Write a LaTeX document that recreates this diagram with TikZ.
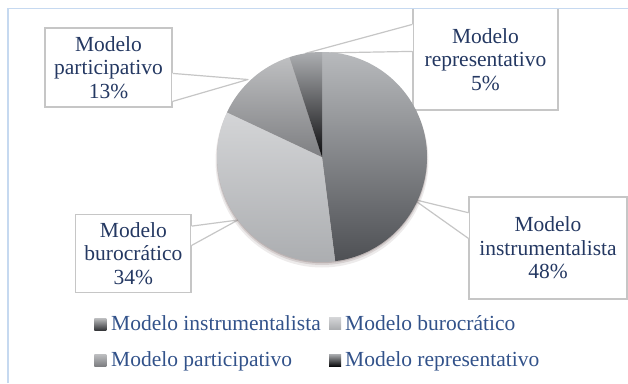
\documentclass[tikz,border=0pt]{standalone}
\usepackage{fontspec}
\setmainfont{Liberation Serif}
\usetikzlibrary{calc}
\definecolor{framec}{RGB}{198,217,240}
\definecolor{boxc}{RGB}{198,198,198}
\definecolor{labtext}{RGB}{36,56,98}
\definecolor{legtextc}{RGB}{50,82,138}
\definecolor{instrT}{RGB}{184,186,189}
\definecolor{instrB}{RGB}{78,80,84}
\definecolor{buroT}{RGB}{212,213,215}
\definecolor{buroB}{RGB}{170,172,175}
\definecolor{partT}{RGB}{190,191,193}
\definecolor{partB}{RGB}{126,127,130}
\definecolor{repT}{RGB}{172,174,177}
\definecolor{repB}{RGB}{12,12,14}
\definecolor{shadowc}{RGB}{110,90,90}
\begin{document}
\begin{tikzpicture}[x=1pt,y=-1pt,
  labelbox/.style={draw=boxc, line width=1.2pt, fill=white, inner sep=0pt,
    align=center, text=labtext, font=\fontsize{21.5}{23.5}\selectfont},
  wedgeline/.style={draw=boxc, line width=1.2pt, line join=round},
  wedgecover/.style={draw=white, line width=1.8pt},
  legsq/.style={minimum size=12pt, inner sep=0pt, draw=none},
  legtext/.style={anchor=base west, inner sep=0pt, text=legtextc,
    font=\fontsize{21.5}{23.5}\selectfont}]
\useasboundingbox (0,0) rectangle (628,383);

% label boxes
\node[labelbox, minimum width=127pt, minimum height=79pt] (part) at (108.5,67.5)
  {Modelo\\participativo\\13\%};
\node[labelbox, minimum width=145pt, minimum height=101.5pt] (rep) at (485.5,59.25)
  {Modelo\\representativo\\5\%};
\node[labelbox, minimum width=158pt, minimum height=102pt] (instr) at (548,248)
  {Modelo\\instrumentalista\\48\%};
\node[labelbox, minimum width=115.3pt, minimum height=78.4pt] (buro) at (133.4,253.5)
  {Modelo\\burocrático\\34\%};

% pointer tips on the pie
\coordinate (tipP) at (248,79.5);
\coordinate (tipR) at (305.6,53.3);
\coordinate (tipI) at (413.3,199.3);
\coordinate (tipB) at (238,220);

% pointer bases on the boxes
\coordinate (pA) at ($(part.north east)+(0,46)$);
\coordinate (pB) at ($(part.north east)+(0,74)$);
\coordinate (rA) at ($(rep.north west)+(0,16.5)$);
\coordinate (rB) at ($(rep.north west)+(0,43.5)$);
\coordinate (iA) at ($(instr.north west)+(0,16.3)$);
\coordinate (iB) at ($(instr.north west)+(0,42)$);
\coordinate (bA) at ($(buro.north east)+(0,12.4)$);
\coordinate (bB) at ($(buro.north east)+(0,31.7)$);

\fill[white] (pA) -- (tipP) -- (pB) -- cycle;
\draw[wedgecover] (pA) -- (pB);
\draw[wedgeline] (pA) -- (tipP) -- (pB);
\fill[white] (rA) -- (tipR) -- (rB) -- cycle;
\draw[wedgecover] (rA) -- (rB);
\draw[wedgeline] (rA) -- (tipR) -- (rB);
\fill[white] (iA) -- (tipI) -- (iB) -- cycle;
\draw[wedgecover] (iA) -- (iB);
\draw[wedgeline] (iA) -- (tipI) -- (iB);
\fill[white] (bA) -- (tipB) -- (bB) -- cycle;
\draw[wedgecover] (bA) -- (bB);
\draw[wedgeline] (bA) -- (tipB) -- (bB);

% pie
\coordinate (O) at (322,157);
\fill[shadowc, opacity=0.12] ($(O)+(0,4)$) circle (106.5);
\fill[shadowc, opacity=0.18] ($(O)+(0,2.5)$) circle (105.5);
\fill[shadowc, opacity=0.25] ($(O)+(0,1.2)$) circle (105);
\shade[top color=instrT, bottom color=instrB]
  (O) -- ++(-90:105) arc[start angle=-90, end angle=82.8, radius=105] -- cycle;
\shade[top color=buroT, bottom color=buroB]
  (O) -- ++(82.8:105) arc[start angle=82.8, end angle=205.2, radius=105] -- cycle;
\shade[top color=partT, bottom color=partB]
  (O) -- ++(205.2:105) arc[start angle=205.2, end angle=252, radius=105] -- cycle;
\shade[top color=repT, bottom color=repB]
  (O) -- ++(252:105) arc[start angle=252, end angle=270, radius=105] -- cycle;

% legend
\node[legsq, top color=instrT!80!black!60, bottom color=instrB!70!black] (sqI) at (100.3,324) {};
\node[legtext] (lgI) at (111,330) {Modelo instrumentalista};
\node[legsq, top color=buroT, bottom color=buroB] (sqB) at (335,323.5) {};
\node[legtext] (lgB) at (345,330) {Modelo burocrático};
\node[legsq, top color=partT, bottom color=partB] (sqP) at (100.3,360) {};
\node[legtext] (lgP) at (111,366) {Modelo participativo};
\node[legsq, top color=repT, bottom color=repB] (sqR) at (335,360) {};
\node[legtext] (lgR) at (345,366) {Modelo representativo};

% outer frame (drawn last, covers the clipped top of the upper right box)
\fill[white] (400,0) rectangle (628,8);
\draw[framec, line width=1.4pt] (8,383) -- (8,8.5) -- (628,8.5);
\end{tikzpicture}
\end{document}
